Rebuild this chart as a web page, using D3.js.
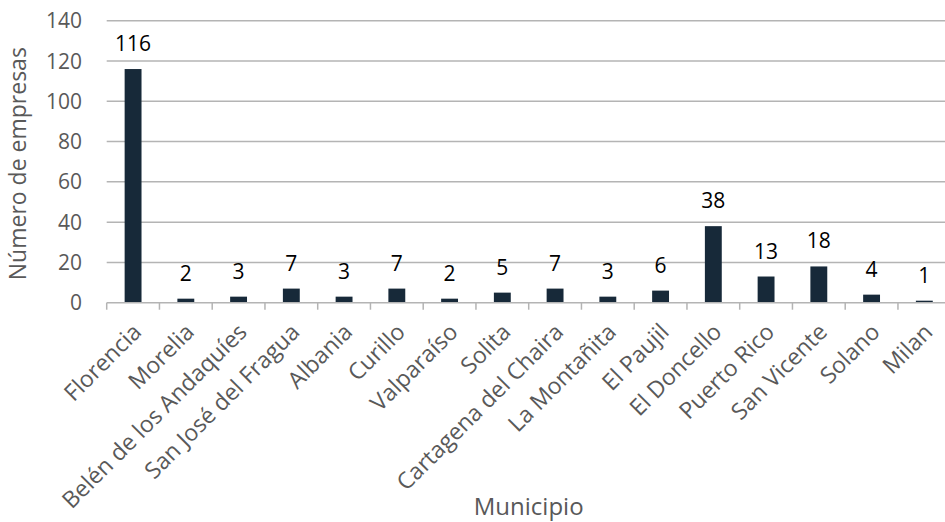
<!DOCTYPE html>
<html><head><meta charset="utf-8">
<script src="https://cdn.jsdelivr.net/npm/d3@7"></script>
<style>body{margin:0;background:#fff;overflow:hidden}svg{display:block}</style>
</head><body>
<script>
const categories = ["Florencia","Morelia","Belén de los Andaquíes","San José del Fragua","Albania","Curillo","Valparaíso","Solita","Cartagena del Chaira","La Montañita","El Paujil","El Doncello","Puerto Rico","San Vicente","Solano","Milan"];
const values = [116,2,3,7,3,7,2,5,7,3,6,38,13,18,4,1];
const yTicks = [0,20,40,60,80,100,120,140];
const yTitle = "Número de empresas";
const xTitle = "Municipio";

const W = 945, H = 522;
const plotLeft = 106.7, bandW = 52.75, plotTop = 20.7, plotBottom = 302.7;
const font = "'Open Sans', sans-serif";

const svg = d3.select("body").append("svg").attr("width", W).attr("height", H);

const xEnd = plotLeft + bandW * categories.length;
const x = d3.scaleBand().domain(categories).range([plotLeft, xEnd]).paddingInner(0.68).paddingOuter(0.34);
const y = d3.scaleLinear().domain([0, 140]).range([plotBottom, plotTop]);

// gridlines
svg.append("g").selectAll("line").data(yTicks.filter(d => d > 0)).join("line")
  .attr("x1", plotLeft).attr("x2", W).attr("y1", d => y(d)).attr("y2", d => y(d))
  .attr("stroke", "#b4b4b4").attr("stroke-width", 1.5);

// y tick labels
svg.append("g").selectAll("text").data(yTicks).join("text")
  .attr("x", 82).attr("y", d => y(d)).attr("dy", "0.36em")
  .attr("text-anchor", "end").attr("font-family", font).attr("font-size", 21)
  .attr("fill", "#595959").text(d => d);

// bars
svg.append("g").selectAll("rect").data(values).join("rect")
  .attr("x", (d, i) => x(categories[i])).attr("width", x.bandwidth())
  .attr("y", d => y(d)).attr("height", d => plotBottom - y(d))
  .attr("fill", "#172939");

// x axis line and ticks
svg.append("line").attr("x1", plotLeft).attr("x2", W).attr("y1", plotBottom).attr("y2", plotBottom)
  .attr("stroke", "#b4b4b4").attr("stroke-width", 1.5);
const bounds = d3.range(categories.length + 1).map(i => plotLeft + i * bandW);
svg.append("g").selectAll("line").data(bounds).join("line")
  .attr("x1", d => d).attr("x2", d => d).attr("y1", plotBottom).attr("y2", plotBottom + 7)
  .attr("stroke", "#b4b4b4").attr("stroke-width", 1.5);

// data labels
svg.append("g").selectAll("text").data(values).join("text")
  .attr("x", (d, i) => x(categories[i]) + x.bandwidth() / 2)
  .attr("y", d => y(d) - 18)
  .attr("text-anchor", "middle").attr("font-family", font).attr("font-size", 21)
  .attr("fill", "#000").text(d => d);

// category labels
svg.append("g").selectAll("text").data(categories).join("text")
  .attr("transform", d => `translate(${x(d) + x.bandwidth() / 2 + 4},${plotBottom + 25}) rotate(-45)`)
  .attr("text-anchor", "end").attr("dy", "0.35em")
  .attr("font-family", font).attr("font-size", 23).attr("fill", "#595959").text(d => d);

// axis titles
svg.append("text").attr("transform", `translate(26,${(plotTop + plotBottom) / 2 + 2}) rotate(-90)`)
  .attr("text-anchor", "middle").attr("font-family", font).attr("font-size", 23)
  .attr("fill", "#595959").text(yTitle);
svg.append("text").attr("x", (plotLeft + xEnd) / 2).attr("y", 515)
  .attr("text-anchor", "middle").attr("font-family", font).attr("font-size", 24)
  .attr("fill", "#595959").text(xTitle);
</script>
</body></html>
